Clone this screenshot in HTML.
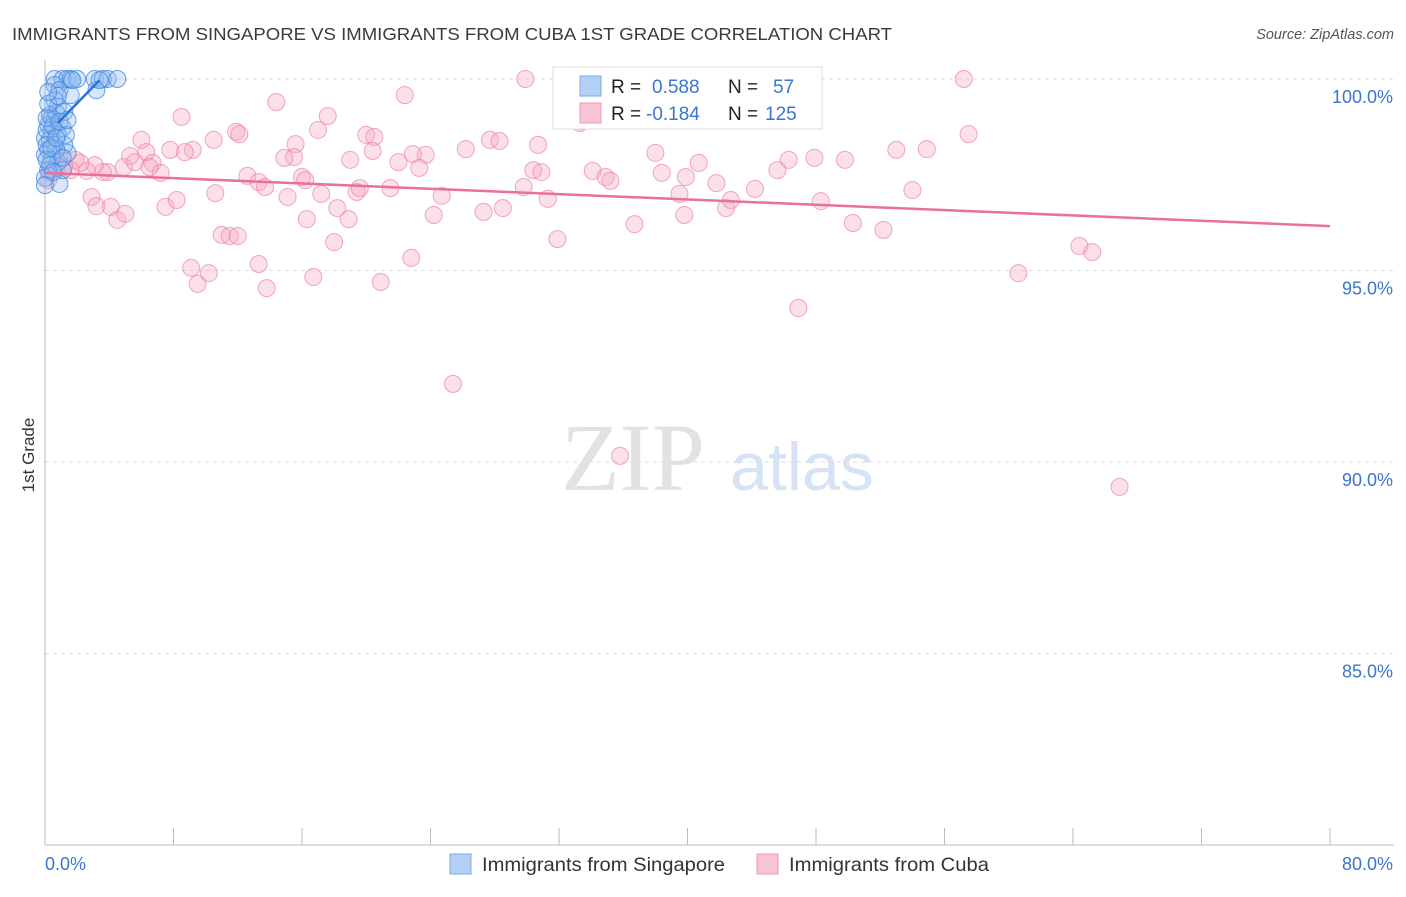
<!DOCTYPE html>
<html><head><meta charset="utf-8"><style>
body{margin:0;background:#fff;font-family:"Liberation Sans",sans-serif;}
svg text{font-family:"Liberation Sans",sans-serif;}
</style></head><body>
<svg width="1406" height="892" xmlns="http://www.w3.org/2000/svg">
<text x="12" y="40" font-size="17.5" fill="#3a3a3a" textLength="880" lengthAdjust="spacingAndGlyphs">IMMIGRANTS FROM SINGAPORE VS IMMIGRANTS FROM CUBA 1ST GRADE CORRELATION CHART</text>
<text x="1394" y="39" font-size="14.5" fill="#555" text-anchor="end" font-style="italic">Source: ZipAtlas.com</text>
<text transform="translate(34,455) rotate(-90)" font-size="17" fill="#333" text-anchor="middle">1st Grade</text>
<g>
<text x="633" y="490" font-size="96" fill="#e2e2e2" text-anchor="middle" font-family="Liberation Serif" style="font-family:'Liberation Serif',serif">ZIP</text>
<text x="802" y="490" font-size="68" fill="#d5e3f5" text-anchor="middle">atlas</text>
</g>
<g id="grid"></g><g id="axes"></g><g id="pts"></g><g id="lines"></g>
<g>
<rect x="553" y="67" width="269" height="62" fill="#fff" stroke="#ddd"/>
<rect x="580" y="76" width="21" height="20" fill="#b5d0f5" stroke="#7aaae8"/>
<rect x="580" y="103" width="21" height="20" fill="#f8c3d3" stroke="#f09ab5"/>
<text x="611" y="93" font-size="19" fill="#222">R = <tspan fill="#3a75d0" x="652">0.588</tspan><tspan x="728">N =</tspan><tspan fill="#3a75d0" x="773">57</tspan></text>
<text x="611" y="120" font-size="19" fill="#222">R = <tspan fill="#3a75d0" x="646">-0.184</tspan><tspan x="728">N =</tspan><tspan fill="#3a75d0" x="765">125</tspan></text>
</g>
<g>
<rect x="450" y="854" width="21" height="20" fill="#b5d0f5" stroke="#7aaae8"/>
<text x="482" y="871" font-size="19.5" fill="#333" textLength="243" lengthAdjust="spacingAndGlyphs">Immigrants from Singapore</text>
<rect x="757" y="854" width="21" height="20" fill="#f8c3d3" stroke="#f09ab5"/>
<text x="789" y="871" font-size="19.5" fill="#333" textLength="200" lengthAdjust="spacingAndGlyphs">Immigrants from Cuba</text>
</g>
</svg>
<script>
const yTicks=[100,95,90,85];
const yTickLabels=["100.0%","95.0%","90.0%","85.0%"];
const xTicks=[0,8,16,24,32,40,48,56,64,72,80];
const xTickLabels=["0.0%","80.0%"];
const cubaX=[29.9,36.4,57.2,14.4,22.4,8.5,17.6,6.0,11.9,12.1,17.0,20.0,20.5,27.7,28.3,30.7,33.4,57.5,53.0,54.9,49.8,47.9,46.3,40.7,38.0,26.2,23.7,22.9,22.0,20.4,19.0,15.6,15.5,14.9,10.5,9.2,8.7,7.8,6.3,5.3,4.9,5.6,6.7,7.2,6.5,3.9,3.6,3.1,1.9,1.2,1.6,2.6,2.9,3.2,4.1,4.5,5.0,7.5,8.2,10.6,12.6,13.3,13.7,15.1,16.0,17.2,18.2,18.9,19.4,19.6,21.5,23.3,24.7,24.2,27.3,28.5,29.8,30.4,30.9,31.3,34.1,34.9,35.2,36.7,38.4,39.5,39.8,39.9,41.8,42.4,42.7,44.2,45.6,48.3,50.3,52.2,54.0,16.3,18.0,11.0,11.5,12.0,13.3,9.1,9.5,10.2,13.8,16.7,20.9,22.8,31.9,60.6,64.4,65.2,46.9,25.4,35.8,66.9,33.3,16.2,0.7,0.3,0.2,0.9,2.2];
const cubaY=[100.0,100.0,100.0,99.40,99.58,99.01,99.03,98.41,98.62,98.56,98.67,98.54,98.49,98.41,98.38,98.28,98.90,98.56,98.15,98.17,97.89,97.94,97.89,97.81,98.07,98.17,98.02,98.04,97.83,98.12,97.89,98.30,97.96,97.94,98.41,98.15,98.09,98.15,98.09,97.99,97.70,97.83,97.81,97.55,97.70,97.57,97.57,97.75,97.89,97.70,97.62,97.60,96.92,96.68,96.66,96.32,96.48,96.66,96.84,97.02,97.47,97.31,97.18,96.92,97.44,97.00,96.63,96.34,97.05,97.15,97.15,97.68,96.95,96.45,96.53,96.63,97.18,97.62,97.57,96.87,97.60,97.44,97.34,96.21,97.55,97.00,96.45,97.44,97.28,96.63,96.84,97.13,97.62,96.81,96.24,96.06,97.10,96.34,95.74,95.93,95.90,95.90,95.17,95.07,94.65,94.93,94.54,94.83,94.70,95.33,95.82,94.93,95.64,95.48,94.02,92.04,90.16,89.35,98.85,97.36,97.68,97.57,97.36,97.99,97.81];
const sgX=[0.6,1.1,1.4,1.6,2.0,3.1,3.6,3.9,4.5,3.2,0.6,0.9,1.6,0.6,0.8,0.3,0.6,0.2,1.1,0.4,0.8,0.0,0.3,0.6,0.2,1.4,0.0,0.4,0.8,0.2,0.0,0.9,0.4,0.1,1.2,0.7,0.3,1.1,0.1,0.5,0.7,0.2,1.2,1.7,3.4,0.1,0.8,1.3,0.5,0.1,0.9,0.4,0.7,1.1,0.0,0.2,1.4];
const sgY=[100,100,100,100,100,100,100,100,100,99.71,99.84,99.71,99.58,99.45,99.27,99.06,98.93,98.80,98.72,98.67,98.54,98.46,98.41,98.28,98.15,98.07,98.02,97.89,97.83,97.62,97.42,97.26,98.98,98.67,98.28,98.15,97.75,97.62,98.28,98.77,99.11,99.35,99.14,99.97,99.97,97.89,99.56,98.54,97.57,98.98,98.88,98.20,98.46,97.94,97.23,99.66,98.93];
const cubaTrend=[[0,97.55],[80,96.16]];
const sgTrend=[[0.8,98.85],[3.4,99.97]];

const NS="http://www.w3.org/2000/svg";
const X0=45,X1=1330,Y100=79,PXPER=38.3;
function sx(v){return X0+(v/80)*(X1-X0);}
function sy(v){return Y100+(100-v)*PXPER;}
function mk(tag,attrs,parent){const e=document.createElementNS(NS,tag);for(const k in attrs)e.setAttribute(k,attrs[k]);parent.appendChild(e);return e;}
const grid=document.getElementById('grid'),axes=document.getElementById('axes'),pts=document.getElementById('pts'),lines=document.getElementById('lines');
yTicks.forEach((t,i)=>{
 const l=mk('line',{x1:X0,x2:1394,y1:sy(t),y2:sy(t),stroke:'#ddd','stroke-dasharray':'4,4'},grid);
 
 
 const tx=mk('text',{x:1393,y:sy(t)+24,'font-size':18,fill:'#3a75d0','text-anchor':'end'},axes);
 tx.textContent=yTickLabels[i];
 
 
});
const ax=mk('line',{x1:X0,x2:X0,y1:60,y2:845,stroke:'#bbb'},axes);


const bx=mk('line',{x1:X0,x2:1394,y1:845,y2:845,stroke:'#bbb'},axes);


xTicks.forEach(t=>{
 const l=mk('line',{x1:sx(t),x2:sx(t),y1:828,y2:845,stroke:'#bbb'},axes);
 
 
});
const xl0=mk('text',{x:45,y:870,'font-size':18,fill:'#3a75d0'},axes);xl0.textContent=xTickLabels[0];


const xl1=mk('text',{x:1393,y:870,'font-size':18,fill:'#3a75d0','text-anchor':'end'},axes);xl1.textContent=xTickLabels[1];


cubaX.forEach((v,i)=>{
 const c=mk('circle',{cx:sx(v),cy:sy(cubaY[i]),r:8.5,fill:'rgba(245,165,192,0.35)',stroke:'rgba(236,130,165,0.7)','stroke-width':1},pts);
 
 
});
sgX.forEach((v,i)=>{
 const c=mk('circle',{cx:sx(v),cy:sy(sgY[i]),r:8.5,fill:'rgba(140,185,240,0.35)',stroke:'rgba(60,130,220,0.75)','stroke-width':1},pts);
 
 
});
const l1=mk('line',{x1:sx(cubaTrend[0][0]),y1:sy(cubaTrend[0][1]),x2:sx(cubaTrend[1][0]),y2:sy(cubaTrend[1][1]),stroke:'#e8709a','stroke-width':2.5},lines);


const l2=mk('line',{x1:sx(sgTrend[0][0]),y1:sy(sgTrend[0][1]),x2:sx(sgTrend[1][0]),y2:sy(sgTrend[1][1]),stroke:'#2f6fd6','stroke-width':2.5},lines);


</script>
</body></html>
